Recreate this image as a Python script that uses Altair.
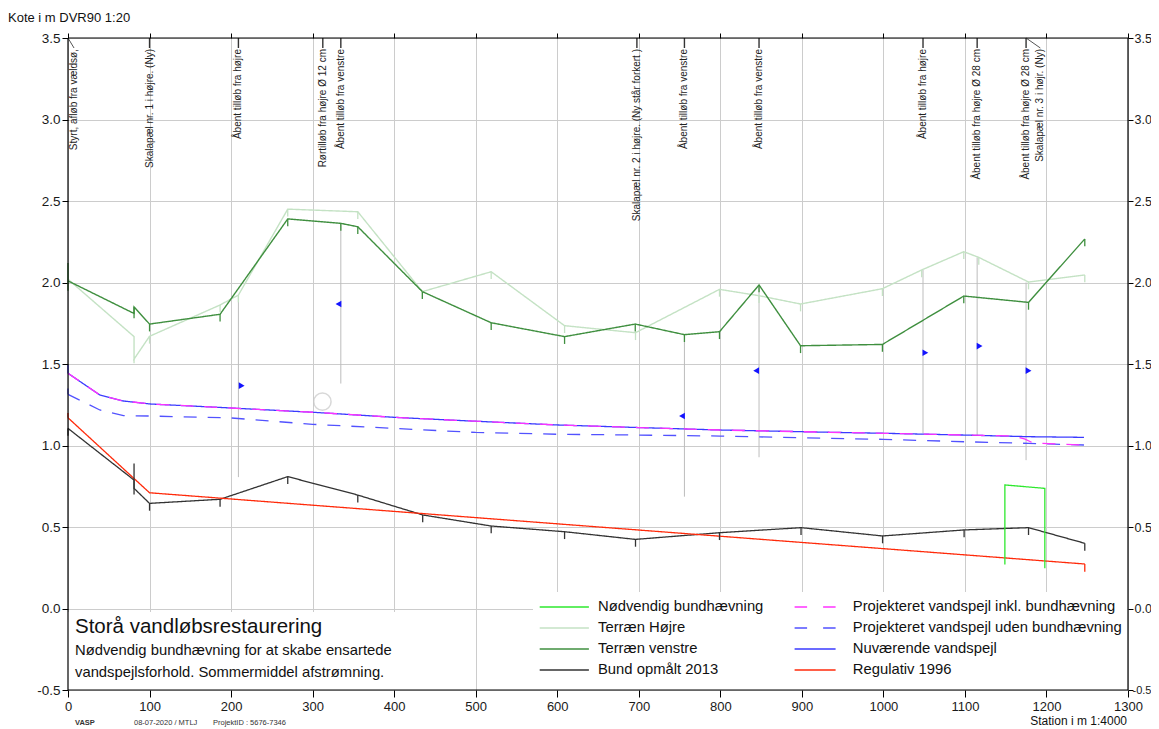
import altair as alt
import pandas as pd

FONT = "Liberation Sans"

# ---------------- axis ticks ----------------
x_ticks = list(range(0, 1301, 100))
y_ticks = [-0.5, 0.0, 0.5, 1.0, 1.5, 2.0, 2.5, 3.0, 3.5]

# ---------------- series names / legend ----------------
S_NOED = "Nødvendig bundhævning"
S_TH = "Terræn Højre"
S_TV = "Terræn venstre"
S_BUND = "Bund opmålt 2013"
S_PINKL = "Projekteret vandspejl inkl. bundhævning"
S_PUDEN = "Projekteret vandspejl uden bundhævning"
S_NUV = "Nuværende vandspejl"
S_REG = "Regulativ 1996"

series_names = [S_NOED, S_TH, S_TV, S_BUND, S_PINKL, S_PUDEN, S_NUV, S_REG]
series_colors = ["#2ee82e", "#c4e2c4", "#3f8f3f", "#333333", "#ff33ff", "#5252ff", "#3a3aff", "#ff2a0a"]
series_dashed = [False, False, False, False, True, True, False, False]

# ---------------- series values (station m, kote m) ----------------
tv_x = [0, 81, 81, 100, 186.5, 269.5, 334.6, 355.4, 434.6, 519, 609, 695.7, 756, 799, 847.5, 898.4, 998.8, 1098.6, 1178, 1247]
tv_y = [2.01, 1.81, 1.85, 1.745, 1.805, 2.39, 2.363, 2.342, 1.944, 1.753, 1.668, 1.745, 1.68, 1.698, 1.985, 1.612, 1.62, 1.917, 1.878, 2.267]

th_x = [0, 81, 81, 100, 186.5, 209, 269.5, 355.4, 434.6, 519, 609, 696, 799, 847.5, 898.4, 998.8, 1047, 1098.6, 1117, 1178, 1247]
th_y = [2.02, 1.668, 1.53, 1.67, 1.862, 1.923, 2.45, 2.434, 1.944, 2.066, 1.735, 1.692, 1.958, 1.919, 1.868, 1.962, 2.077, 2.189, 2.154, 2.003, 2.046]

bund_x = [0, 81, 81, 100, 186.5, 269.5, 355.4, 435, 519, 609, 696, 799, 899, 999, 1099, 1178, 1247]
bund_y = [1.105, 0.788, 0.737, 0.645, 0.67, 0.809, 0.696, 0.574, 0.506, 0.471, 0.424, 0.465, 0.496, 0.445, 0.482, 0.496, 0.40]

reg_x = [0, 100, 1247]
reg_y = [1.17, 0.71, 0.273]

nuv_x = [0, 39, 68, 100, 200, 300, 400, 469, 600, 700, 800, 935, 1000, 1100, 1178, 1246]
nuv_y = [1.443, 1.31, 1.273, 1.255, 1.23, 1.204, 1.173, 1.156, 1.126, 1.11, 1.095, 1.081, 1.075, 1.064, 1.054, 1.05]

pinkl_x = [0, 39, 68, 100, 200, 300, 400, 469, 600, 700, 800, 935, 1000, 1100, 1160, 1173, 1184, 1246]
pinkl_y = [1.443, 1.31, 1.273, 1.255, 1.23, 1.204, 1.173, 1.156, 1.126, 1.11, 1.095, 1.081, 1.075, 1.064, 1.058, 1.04, 1.015, 1.003]

puden_x = [0, 39, 68, 100, 200, 300, 400, 500, 600, 700, 800, 900, 1000, 1100, 1178, 1246]
puden_y = [1.314, 1.218, 1.183, 1.181, 1.169, 1.13, 1.105, 1.08, 1.069, 1.064, 1.058, 1.047, 1.038, 1.023, 1.013, 1.003]

noed_x = [1149, 1149, 1198, 1198]
noed_y = [0.27, 0.758, 0.737, 0.247]

# special vertical marks (station, from, to, series)
special_tick_x = [0, 81, 81, 0, 81, 0, 0, 0, 1247]
special_tick_y1 = [2.12, 1.85, 1.53, 1.105, 0.89, 1.494, 1.35, 1.2, 0.273]
special_tick_y2 = [1.95, 1.78, 1.505, 1.06, 0.70, 1.443, 1.314, 1.17, 0.226]
special_tick_s = [S_TV, S_TV, S_TH, S_BUND, S_BUND, S_NUV, S_PUDEN, S_REG, S_REG]

# inlet markers
tri_x = [213, 331.7, 753, 844, 1051.5, 1118, 1178]
tri_y = [1.367, 1.868, 1.181, 1.459, 1.569, 1.61, 1.459]
tri_dir = ["right", "left", "left", "left", "right", "right", "right"]

# pipe (circle)
pipe_x = [312]
pipe_y = [1.269]

# structure lines
st_x = [209, 334.6, 756, 847.5, 1048.6, 1115, 1175]
st_top = [1.923, 2.363, 1.68, 1.985, 2.077, 2.154, 2.0]
st_bot = [0.806, 1.38, 0.686, 0.928, 1.075, 1.064, 0.91]

# station annotations
ann_station = [0, 100, 209, 312.5, 334.6, 697.7, 756, 847.5, 1048.6, 1115, 1175, 1175]
ann_label_x = [7.4, 100, 209, 312.5, 334.6, 697.7, 756, 847.5, 1048.6, 1115, 1175, 1192.5]
ann_text = [
    "Styrt, afløb fra vældsø,",
    "Skalapæl nr. 1 i højre. (Ny)",
    "Åbent tilløb fra højre",
    "Rørtilløb fra højre Ø 12 cm",
    "Åbent tilløb fra venstre",
    "Skalapæl nr. 2 i højre. (Ny står forkert )",
    "Åbent tilløb fra venstre",
    "Åbent tilløb fra venstre",
    "Åbent tilløb fra højre",
    "Åbent tilløb fra højre Ø 28 cm",
    "Åbent tilløb fra højre Ø 28 cm",
    "Skalapæl nr. 3 i højr. (Ny)",
]

# ---------------- layout helpers ----------------
W, H = 1060, 652
X0, X1 = 0, 1300
Y0, Y1 = -0.5, 3.5


def px_x(px):
    return X0 + px / W * (X1 - X0)


def px_y(py):
    return Y1 - py / H * (Y1 - Y0)


xs = alt.Scale(domain=[X0, X1], nice=False, zero=False)
ys = alt.Scale(domain=[Y0, Y1], nice=False, zero=False)
cscale = alt.Scale(domain=series_names, range=series_colors)
dscale = alt.Scale(domain=series_names, range=[[13, 11] if d else [1, 0] for d in series_dashed])

GRID = "#cccccc"
minus_fix = "replace(format(datum.value, '.1f'), '\u2212', '-')"

bottom_axis = alt.Axis(orient="bottom", values=x_ticks, grid=True, gridColor=GRID, gridWidth=1,
                       domain=False, tickColor="#000", tickSize=7, tickWidth=1,
                       labelFont=FONT, labelFontSize=13, labelColor="#1a1a1a", labelPadding=3,
                       labelFlush=False, labelOverlap=False, title=None, format="d")
left_axis = alt.Axis(orient="left", values=y_ticks, grid=True, gridColor=GRID, gridWidth=1,
                     domain=False, tickColor="#000", tickSize=6, tickWidth=1,
                     labelFont=FONT, labelFontSize=13.5, labelColor="#1a1a1a", labelPadding=2,
                     labelFlush=False, labelOverlap=False, title=None, labelExpr=minus_fix)
top_axis = alt.Axis(orient="top", values=x_ticks, grid=False, domain=False, labels=False,
                    tickColor="#000", tickSize=5, tickWidth=1, title=None)
right_axis = alt.Axis(orient="right", values=y_ticks, grid=False, domain=False,
                      tickColor="#000", tickSize=5, tickWidth=1,
                      labelFont=FONT,
                      labelFontSize={"condition": {"test": "datum.value < 0", "value": 11}, "value": 12.5},
                      labelPadding={"condition": {"test": "datum.value < 0", "value": -1}, "value": 1},
                      labelColor="#1a1a1a",
                      labelFlush=False, labelOverlap=False, title=None, labelExpr=minus_fix)

# ---------------- tables ----------------
line_series = [
    (S_TH, th_x, th_y), (S_TV, tv_x, tv_y), (S_BUND, bund_x, bund_y), (S_REG, reg_x, reg_y),
    (S_NUV, nuv_x, nuv_y), (S_PUDEN, puden_x, puden_y), (S_PINKL, pinkl_x, pinkl_y),
    (S_NOED, noed_x, noed_y),
]
rows = []
for name, sx, sy in line_series:
    for i, (a, b) in enumerate(zip(sx, sy)):
        rows.append(dict(serie=name, station=a, kote=b, idx=i))
lines_df = pd.DataFrame(rows)

TICK_LEN = 0.045
tick_rows = []
for name, sx, sy in [(S_TH, th_x, th_y), (S_TV, tv_x, tv_y), (S_BUND, bund_x, bund_y)]:
    for a, b in zip(sx, sy):
        if a in (0, 81):
            continue
        tick_rows.append(dict(serie=name, station=a, y1=b, y2=b - TICK_LEN))
for a, b1, b2, s in zip(special_tick_x, special_tick_y1, special_tick_y2, special_tick_s):
    tick_rows.append(dict(serie=s, station=a, y1=b1, y2=b2))
ticks_df = pd.DataFrame(tick_rows)

tri_df = pd.DataFrame({"station": tri_x, "kote": tri_y, "dir": tri_dir})
pipe_df = pd.DataFrame({"station": pipe_x, "kote": pipe_y})
st_df = pd.DataFrame({"station": st_x, "top": st_top, "bot": st_bot})
ann_df = pd.DataFrame({"station": ann_station, "lx": ann_label_x, "text": ann_text})
ann_df["leader"] = ann_df["station"] != ann_df["lx"]

# white panels (text box, legend box), in plot pixels -> data
box_df = pd.DataFrame({
    "x": [px_x(0), px_x(465)], "x2": [px_x(400), px_x(W)],
    "y": [Y0, Y0], "y2": [px_y(574), px_y(554)],
})

# legend layout
leg_rows = []
col1 = [S_NOED, S_TH, S_TV, S_BUND]
col2 = [S_PINKL, S_PUDEN, S_NUV, S_REG]
for c, col in enumerate([col1, col2]):
    sx1, sx2, lx = (471.7, 520.9, 530.0) if c == 0 else (726.6, 767.6, 784.8)
    for r, name in enumerate(col):
        py = 569 + 21 * r
        leg_rows.append(dict(serie=name, x1=px_x(sx1), x2=px_x(sx2), lx=px_x(lx), y=px_y(py),
                             dashed=series_dashed[series_names.index(name)]))
leg_df = pd.DataFrame(leg_rows)

# ---------------- layers ----------------
layers = []

layers.append(alt.Chart(box_df).mark_rect(color="white").encode(
    x=alt.X("x:Q", scale=xs, axis=None), x2="x2:Q",
    y=alt.Y("y:Q", scale=ys, axis=None), y2="y2:Q"))

layers.append(alt.Chart(st_df).mark_rule(color="#bdbdbd", strokeWidth=1).encode(
    x=alt.X("station:Q", scale=xs, axis=None),
    y=alt.Y("top:Q", scale=ys, axis=None), y2="bot:Q"))


def line_layer(name, with_axes=False):
    return alt.Chart(lines_df).transform_filter(alt.datum.serie == name).mark_line(
        strokeWidth=1.4 if name in (S_TV, S_TH) else 1.3).encode(
        x=alt.X("station:Q", scale=xs, axis=bottom_axis if with_axes else None),
        y=alt.Y("kote:Q", scale=ys, axis=left_axis if with_axes else None),
        color=alt.Color("serie:N", scale=cscale, legend=None),
        strokeDash=alt.StrokeDash("serie:N", scale=dscale, legend=None),
        order=alt.Order("idx:Q"),
    )


for k, (name, _, _) in enumerate(line_series):
    layers.append(line_layer(name, with_axes=(k == 0)))

layers.append(alt.Chart(ticks_df).mark_rule(strokeWidth=1.3).encode(
    x=alt.X("station:Q", scale=xs, axis=None),
    y=alt.Y("y1:Q", scale=ys, axis=None), y2="y2:Q",
    color=alt.Color("serie:N", scale=cscale, legend=None)))

layers.append(alt.Chart(tri_df).mark_point(filled=True, size=45, color="#1414ff", opacity=1).encode(
    x=alt.X("station:Q", scale=xs, axis=top_axis),
    y=alt.Y("kote:Q", scale=ys, axis=right_axis),
    shape=alt.Shape("dir:N", scale=alt.Scale(domain=["right", "left"],
                                               range=["triangle-right", "triangle-left"]), legend=None)))

layers.append(alt.Chart(pipe_df).mark_point(shape="circle", size=300, filled=False,
                                            color="#c8c8c8", strokeWidth=1.5).encode(
    x=alt.X("station:Q", scale=xs, axis=None),
    y=alt.Y("kote:Q", scale=ys, axis=None)))

# annotation ticks at top
layers.append(alt.Chart(ann_df).transform_filter("!datum.leader").mark_rule(color="#333", strokeWidth=1.4).encode(
    x=alt.X("station:Q", scale=xs, axis=None), y=alt.value(0), y2=alt.value(10)))
layers.append(alt.Chart(ann_df).transform_filter("datum.leader").mark_rule(color="#555", strokeWidth=1).encode(
    x=alt.X("station:Q", scale=xs, axis=None), x2="lx:Q", y=alt.value(0), y2=alt.value(10)))
layers.append(alt.Chart(ann_df).mark_text(angle=270, align="right", baseline="middle",
                                          font=FONT, fontSize=10, color="#222").encode(
    x=alt.X("lx:Q", scale=xs, axis=None), y=alt.value(11), text="text:N"))

# legend
layers.append(alt.Chart(leg_df).transform_filter("!datum.dashed").mark_rule(strokeWidth=1.5).encode(
    x=alt.X("x1:Q", scale=xs, axis=None), x2="x2:Q",
    y=alt.Y("y:Q", scale=ys, axis=None),
    color=alt.Color("serie:N", scale=cscale, legend=None)))
layers.append(alt.Chart(leg_df).transform_filter("datum.dashed").mark_rule(strokeWidth=1.5, strokeDash=[12.5, 16]).encode(
    x=alt.X("x1:Q", scale=xs, axis=None), x2="x2:Q",
    y=alt.Y("y:Q", scale=ys, axis=None),
    color=alt.Color("serie:N", scale=cscale, legend=None)))
layers.append(alt.Chart(leg_df).mark_text(align="left", baseline="middle", font=FONT,
                                          fontSize=14.8, color="#111").encode(
    x=alt.X("lx:Q", scale=xs, axis=None), y=alt.Y("y:Q", scale=ys, axis=None), text="serie:N"))


def label(text, x, y, size, align="left", color="#111", weight="normal"):
    return alt.Chart(pd.DataFrame({"t": [text]})).mark_text(
        align=align, baseline="middle", font=FONT, fontSize=size, color=color, fontWeight=weight).encode(
        x=alt.value(x), y=alt.value(y), text="t:N")


layers.append(label("Kote i m DVR90 1:20", -60, -20, 13))
layers.append(label("Storå vandløbsrestaurering", 7, 589, 20.5))
layers.append(label("Nødvendig bundhævning for at skabe ensartede", 7, 613, 14.8))
layers.append(label("vandspejlsforhold. Sommermiddel afstrømning.", 7, 635, 14.8))
layers.append(label("VASP", 7, 685, 7.5, color="#333", weight="bold"))
layers.append(label("08-07-2020 / MTLJ", 66, 685, 7.5, color="#333"))
layers.append(label("ProjektID : 5676-7346", 145, 685, 7.5, color="#333"))
layers.append(label("Station i m  1:4000", 1059, 683, 12, align="right"))


def frame_rule(x, x2, y, y2):
    return alt.Chart(pd.DataFrame({"k": [0]})).mark_rule(color="#000", strokeWidth=1.2).encode(
        x=alt.value(x), x2=alt.value(x2), y=alt.value(y), y2=alt.value(y2))


layers.append(frame_rule(0, W, 0, 0))
layers.append(frame_rule(0, W, H, H))
layers.append(frame_rule(0, 0, 0, H))
layers.append(frame_rule(W, W, 0, H))

chart = alt.layer(*layers).resolve_axis(x="independent", y="independent").properties(
    width=W, height=H,
    autosize=alt.AutoSizeParams(type="none"),
    padding={"left": 60, "top": 30, "right": 23, "bottom": 39},
    background="white",
).configure_view(stroke=None)

chart.save("out.html", embed_options={"renderer": "svg", "actions": False})
